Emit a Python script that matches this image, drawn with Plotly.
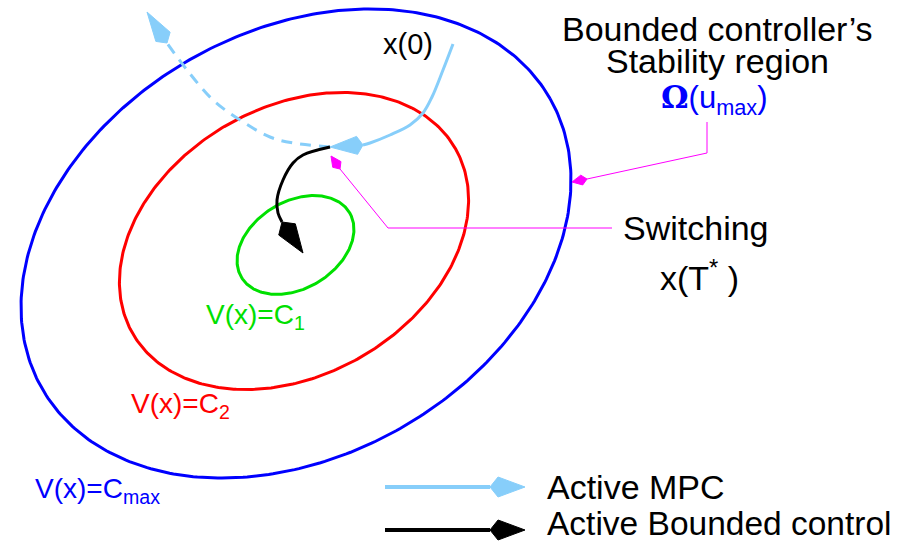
import numpy as np
import plotly.graph_objects as go

# ---------------- data ----------------
# Level sets V(x)=C drawn as tilted ellipses (centre, semi-axes, tilt in degrees)
level_names = ["Cmax", "C2", "C1"]
level_cx = [296, 294, 295.5]
level_cy = [243.5, 241, 245]
level_a = [292.5, 186, 63]
level_b = [212.3, 134, 43.5]
level_tilt = [29.7, 29.8, 31]
level_labels = ["V(x)=C<sub>max</sub>", "V(x)=C<sub>2</sub>", "V(x)=C<sub>1</sub>"]
level_label_x = [97, 180, 255]
level_label_y = [490, 405, 316]

# MPC trajectory from x(0) to the switching point
mpc_x = [453, 443, 432, 423, 410, 390, 370, 363]
mpc_y = [44, 70, 97, 113, 125, 135, 143, 145]
mpc_tip = [330, 147]
# MPC continuation (dashed, would leave the region)
mpc_cont_x = [330, 293, 270, 240, 213, 187, 167]
mpc_cont_y = [147, 143, 137, 120, 100, 70, 43]
mpc_cont_tip = [147, 12]
# Bounded control trajectory after switching
bc_x = [330, 303, 293, 283, 277, 278, 282]
bc_y = [147, 155, 163, 180, 200, 213, 222]
bc_tip = [303, 253]

# Callout leader lines
sw_x = [612, 388, 340]
sw_y = [228, 228, 169]
sw_tip = [331, 156]
om_x = [707, 707, 587]
om_y = [122, 153, 179]
om_tip = [572, 182]

# Legend arrows
leg_x = [385, 490]
leg_mpc_y = [487, 487]
leg_bc_y = [530, 530]
leg_tip_x = 525

# ---------------- figure ----------------
BLUE = "#0000FF"
RED = "#FF0000"
GREEN = "#00E000"
LBLUE = "#87CEFA"
MAG = "#FF00FF"
FONT = "Liberation Sans, Arial, sans-serif"

fig = go.Figure()


def ellipse(cx, cy, a, b, tilt):
    t = np.linspace(0, 2 * np.pi, 400)
    ph = np.radians(tilt)
    x = cx + a * np.cos(t) * np.cos(ph) - b * np.sin(t) * np.sin(ph)
    y = cy - (a * np.cos(t) * np.sin(ph) + b * np.sin(t) * np.cos(ph))
    return x, y


def kite(back, tip, frac, hw):
    b = np.array(back, float)
    t = np.array(tip, float)
    d = t - b
    L = np.hypot(*d)
    u = d / L
    n = np.array([-u[1], u[0]])
    w = b + u * L * frac
    pts = [b, w + n * hw, t, w - n * hw, b]
    return [p[0] for p in pts], [p[1] for p in pts]


colors = [BLUE, RED, GREEN]
for i in range(3):
    ex, ey = ellipse(level_cx[i], level_cy[i], level_a[i], level_b[i], level_tilt[i])
    fig.add_trace(go.Scatter(x=ex, y=ey, mode="lines",
                             line=dict(color=colors[i], width=3)))


def add_arrow(xs, ys, tip, color, width, frac, hw, dash=None, shape="spline"):
    fig.add_trace(go.Scatter(x=xs, y=ys, mode="lines",
                             line=dict(color=color, width=width, dash=dash,
                                       shape=shape, smoothing=1.0)))
    kx, ky = kite([xs[-1], ys[-1]], tip, frac, hw)
    fig.add_trace(go.Scatter(x=kx, y=ky, mode="lines", fill="toself",
                             fillcolor=color, line=dict(color=color, width=1)))


add_arrow(mpc_cont_x, mpc_cont_y, mpc_cont_tip, LBLUE, 3, 0.2, 8.5, dash="11px,8px")
add_arrow(mpc_x, mpc_y, mpc_tip, LBLUE, 3, 0.18, 9)
add_arrow(bc_x, bc_y, bc_tip, "black", 3, 0.24, 10)
add_arrow(sw_x, sw_y, sw_tip, MAG, 1, 0.35, 5, shape="linear")
add_arrow(om_x, om_y, om_tip, MAG, 1, 0.35, 5, shape="linear")
add_arrow(leg_x, leg_mpc_y, [leg_tip_x, leg_mpc_y[-1]], LBLUE, 4, 0.23, 10, shape="linear")
add_arrow(leg_x, leg_bc_y, [leg_tip_x, leg_bc_y[-1]], "black", 4, 0.23, 10, shape="linear")

ann = []


def text(x, y, s, size, color="black", xanchor="center", yanchor="middle"):
    ann.append(dict(x=x, y=y, xref="x", yref="y", text=s, showarrow=False,
                    xanchor=xanchor, yanchor=yanchor,
                    font=dict(family=FONT, size=size, color=color)))


for i in range(3):
    text(level_label_x[i], level_label_y[i], level_labels[i], 28, colors[i])

text(408, 44, "x(0)", 29)
text(717, 29, "Bounded controller\u2019s", 34)
text(717, 61, "Stability region", 34)
text(714, 99, '<span style="font-family:DejaVu Serif"><b>\u03a9</b></span>(u<sub>max</sub>)', 31, BLUE)
text(696, 228, "Switching", 34)
text(699, 275, "x(T<sup>*</sup> )", 34)
text(545, 487, "Active MPC", 34, xanchor="left")
text(545, 544, "Active Bounded control", 33.5, xanchor="left", yanchor="bottom")

fig.update_layout(
    width=909, height=544,
    margin=dict(l=0, r=0, t=0, b=0),
    paper_bgcolor="white", plot_bgcolor="white",
    showlegend=False,
    annotations=ann,
    xaxis=dict(range=[0, 909], visible=False, fixedrange=True),
    yaxis=dict(range=[544, 0], visible=False, fixedrange=True),
)

fig.write_html(
    "out.html",
    config={"displayModeBar": False},
    post_script="document.body.style.margin='0px';document.body.style.overflow='hidden';",
)
